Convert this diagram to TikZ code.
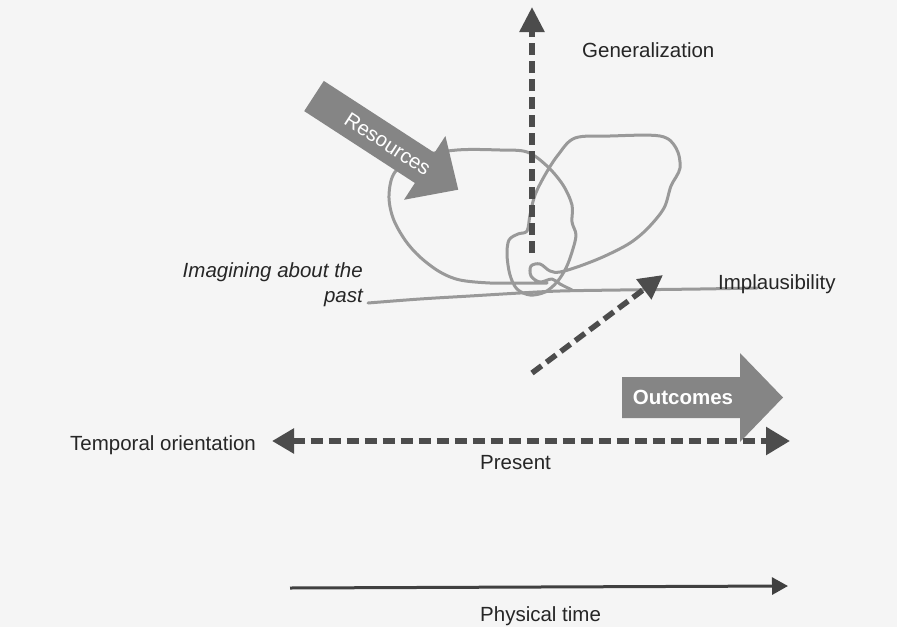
\documentclass[tikz,border=0pt]{standalone}
\usepackage{fontspec}
\setmainfont{Liberation Sans}
\usetikzlibrary{arrows.meta}

\begin{document}
\begin{tikzpicture}[x=1pt, y=-1pt,
    lbl/.style={font=\fontsize{20.5}{25}\selectfont, text=black!85, inner sep=0pt},
    scribble/.style={draw=black!40, line width=3pt, line cap=round, line join=round},
    dashaxis/.style={draw=black!70, line width=5.5pt, dash pattern=on 12pt off 6pt},
    bigarrow/.style={fill=black!48}]
    \fill[black!4] (0,0) rectangle (897,627);
    \path[use as bounding box] (0,0) rectangle (897,627);

    \draw[scribble] plot[smooth, tension=0.6] coordinates {(368,303) (420,299) (470,296) (520,293) (560,291) (620,290) (700,289) (757,288)};
    \draw[scribble] plot[smooth, tension=0.55] coordinates {(547,283) (520,283) (490,283) (460,280) (440,272) (420,257) (405,240) (393,218) (389,195) (395,172) (418,157) (457,150) (500,150) (527,152) (547,166) (563,185) (572,205) (572,222) (576,235) (572,252) (566,268) (557,282) (545,292) (530,295) (517,289) (510,275) (507,255) (509,240) (518,234) (527,231) (530,215) (535,195) (545,175) (558,155) (575,138) (610,136) (660,136) (676,148) (680,168) (671,186) (664,208) (648,228) (630,243) (605,256) (580,266) (560,272) (550,271) (540,264) (531,266) (531,276) (540,282) (552,279) (560,284) (572,290)};

    \begin{scope}[shift={(314,96)}, rotate=-33]
        \fill[bigarrow] (0,-18) -- (132,-18) -- (132,-38) -- (172,0) -- (132,38) -- (132,18) -- (0,18) -- cycle;
        \node[lbl, text=white, rotate=-33] (res) at (88,0) {Resources};
    \end{scope}

    \fill[bigarrow] (622,377) -- (740,377) -- (740,353) -- (783,397.5) -- (740,442) -- (740,418) -- (622,418) -- cycle;
    \node[lbl, text=white, font=\fontsize{20.5}{25}\selectfont\bfseries] (outc) at (683,397.5) {Outcomes};

    \node[lbl, anchor=base west] (gen) at (582,57) {Generalization};
    \node[lbl, anchor=base west] (impl) at (718,289) {Implausibility};
    \node[lbl, anchor=east, align=right, font=\fontsize{20.5}{25}\selectfont\itshape] (imag) at (363,285) {Imagining about the\\past};
    \node[lbl, anchor=base west] (temp) at (70,450) {Temporal orientation};
    \node[lbl, anchor=base west] (pres) at (480,469) {Present};
    \node[lbl, anchor=base west] (phys) at (480,621) {Physical time};

    \coordinate (gbot) at (532,253);
    \coordinate (gtop) at (532,7);
    \coordinate (dbot) at (532,373);
    \coordinate (dtop) at (663,275);
    \coordinate (tleft) at (272,441);
    \coordinate (tright) at (790,441);
    \coordinate (pleft) at (290,588);
    \coordinate (pright) at (788,586);

    \draw[dashaxis, -{Triangle[length=25pt,width=24pt]}] (gbot) -- (gtop);
    \draw[dashaxis, -{Triangle[length=24pt,width=24pt]}] (dbot) -- (dtop);
    \draw[dashaxis, {Triangle[length=22pt,width=24pt]}-{Triangle[length=24pt,width=27pt]}] (tleft) -- (tright);
    \draw[black!75, line width=3pt, -{Triangle[length=16pt,width=17pt]}] (pleft) -- (pright);
\end{tikzpicture}
\end{document}
